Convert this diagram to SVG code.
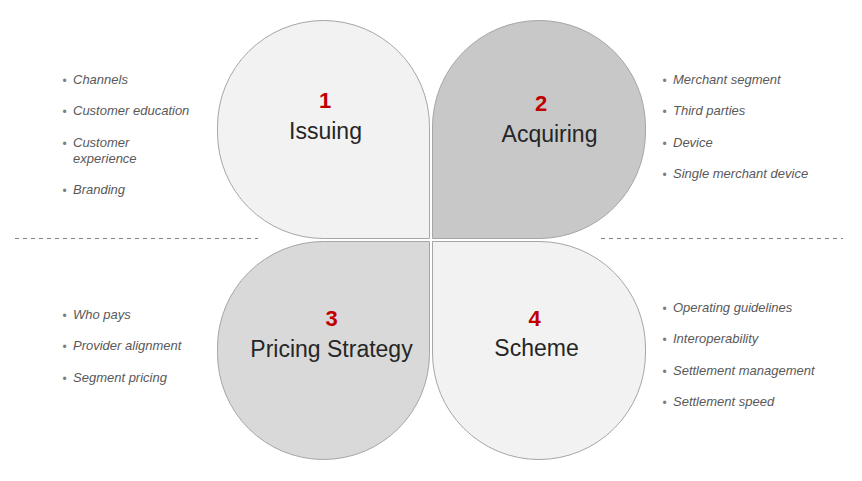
<svg xmlns="http://www.w3.org/2000/svg" width="862" height="481" viewBox="0 0 862 481">
<style>
.petal{stroke:#a6a6a6;stroke-width:1}
.num{font-family:"Liberation Sans",Arial,sans-serif;font-size:22px;font-weight:bold;fill:#c00000;text-anchor:middle}
.title{font-family:"Liberation Sans",Arial,sans-serif;font-size:23px;fill:#262626;text-anchor:middle}
.item{font-family:"Liberation Sans",Arial,sans-serif;font-size:13px;font-style:italic;fill:#595959}
.bul{font-family:"Liberation Sans",Arial,sans-serif;font-size:12px;fill:#7f7f7f}
.dash{stroke:#7f7f7f;stroke-width:1;stroke-dasharray:4 4;fill:none}
</style>
<rect width="862" height="481" fill="#ffffff"/>
<g id="connectors">
<line class="dash" x1="15" y1="238.5" x2="258" y2="238.5"/>
<line class="dash" x1="601" y1="238.5" x2="843" y2="238.5"/>
</g>
<g id="node-issuing">
<path class="petal" fill="#f2f2f2" d="M429.5,238.5 H323.5 A106,106 0 0 1 217.5,132.5 V126.5 A106,106 0 0 1 323.5,20.5 A106,106 0 0 1 429.5,126.5 Z"/>
<text class="num" x="325" y="108">1</text>
<text class="title" x="325.5" y="139">Issuing</text>
</g>
<g id="node-acquiring">
<path class="petal" fill="#c8c8c8" d="M432.5,238.5 V127 A106.5,106.5 0 0 1 539,20.5 A106.5,106.5 0 0 1 645.5,127 V132 A106.5,106.5 0 0 1 539,238.5 Z"/>
<text class="num" x="541" y="111">2</text>
<text class="title" x="549.5" y="142">Acquiring</text>
</g>
<g id="node-pricing">
<path class="petal" fill="#d9d9d9" d="M429.5,241.5 V353.5 A106,106 0 0 1 323.5,459.5 A106,106 0 0 1 217.5,353.5 V347.5 A106,106 0 0 1 323.5,241.5 Z"/>
<text class="num" x="331.5" y="326">3</text>
<text class="title" x="331.5" y="357">Pricing Strategy</text>
</g>
<g id="node-scheme">
<path class="petal" fill="#f2f2f2" d="M432.5,241.5 H539 A106.5,106.5 0 0 1 645.5,348 V353 A106.5,106.5 0 0 1 539,459.5 A106.5,106.5 0 0 1 432.5,353 Z"/>
<text class="num" x="534.5" y="326">4</text>
<text class="title" x="536.5" y="356">Scheme</text>
</g>
<g id="list-issuing">
<text class="bul" x="62.5" y="84.5">•</text><text class="item" x="73" y="83.5">Channels</text>
<text class="bul" x="62.5" y="115.5">•</text><text class="item" x="73" y="114.5">Customer education</text>
<text class="bul" x="62.5" y="147.5">•</text><text class="item" x="73" y="146.5">Customer</text>
<text class="item" x="73" y="162.5">experience</text>
<text class="bul" x="62.5" y="194.5">•</text><text class="item" x="73" y="193.5">Branding</text>
</g>
<g id="list-acquiring">
<text class="bul" x="662.5" y="85">•</text><text class="item" x="673" y="84">Merchant segment</text>
<text class="bul" x="662.5" y="116">•</text><text class="item" x="673" y="115">Third parties</text>
<text class="bul" x="662.5" y="148">•</text><text class="item" x="673" y="147">Device</text>
<text class="bul" x="662.5" y="179">•</text><text class="item" x="673" y="178">Single merchant device</text>
</g>
<g id="list-pricing">
<text class="bul" x="62.5" y="319.5">•</text><text class="item" x="73" y="318.5">Who pays</text>
<text class="bul" x="62.5" y="350.5">•</text><text class="item" x="73" y="349.5">Provider alignment</text>
<text class="bul" x="62.5" y="382.5">•</text><text class="item" x="73" y="381.5">Segment pricing</text>
</g>
<g id="list-scheme">
<text class="bul" x="662.5" y="313">•</text><text class="item" x="673" y="312">Operating guidelines</text>
<text class="bul" x="662.5" y="344">•</text><text class="item" x="673" y="343">Interoperability</text>
<text class="bul" x="662.5" y="376">•</text><text class="item" x="673" y="375">Settlement management</text>
<text class="bul" x="662.5" y="407">•</text><text class="item" x="673" y="406">Settlement speed</text>
</g>
</svg>
